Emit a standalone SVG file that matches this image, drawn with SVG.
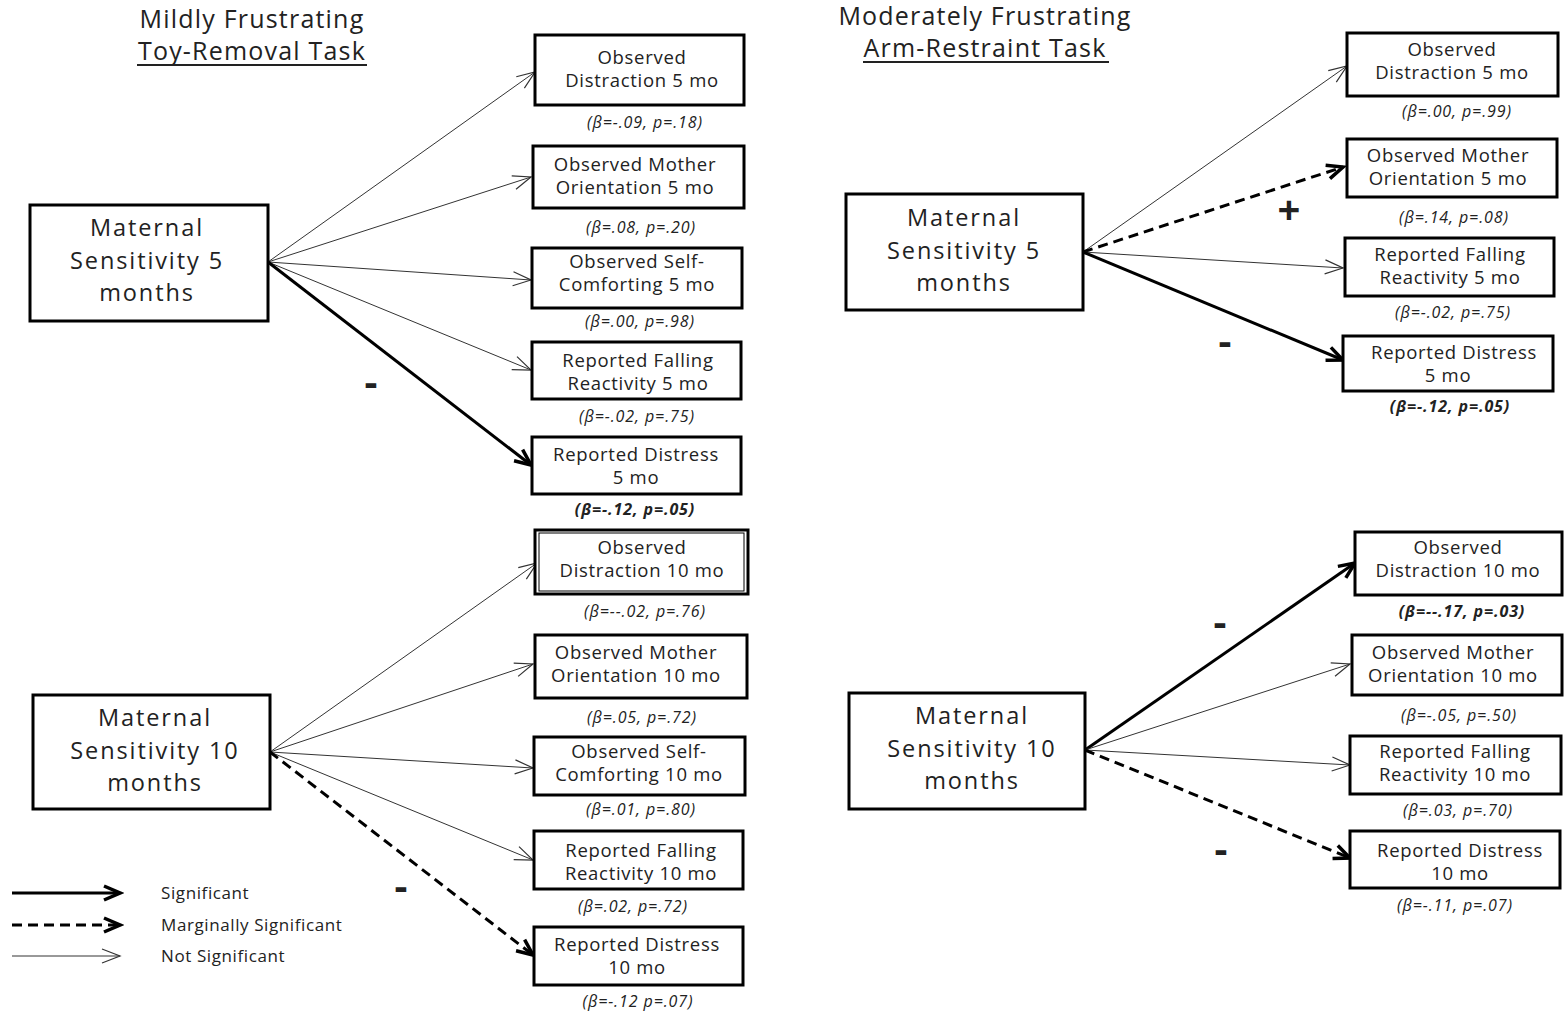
<svg xmlns="http://www.w3.org/2000/svg" width="1564" height="1015" viewBox="0 0 1564 1015">
<style>
text{font-family:"Open Sans","Liberation Sans",sans-serif;fill:#222;text-anchor:middle}
.box{fill:#fff;stroke:#000;stroke-width:3}
.main{font-size:23.5px;letter-spacing:1.9px}
.t{font-size:18.5px;letter-spacing:0.7px}
.lab{font-size:16px;font-style:italic;letter-spacing:0.9px}
.b{font-weight:bold}
.title{font-size:25px;letter-spacing:1.2px}
.thin{stroke:#333;stroke-width:1;fill:none}
.sig{stroke:#000;stroke-width:3;fill:none}
.marg{stroke:#000;stroke-width:3;fill:none;stroke-dasharray:10 6}
.sign{font-size:40px;font-weight:bold;fill:#222}
.leg{font-size:17px;letter-spacing:0.6px;text-anchor:start}
</style>
<defs>
<marker id="ah" markerUnits="userSpaceOnUse" markerWidth="24" markerHeight="20" refX="20" refY="8" orient="auto" viewBox="0 0 24 16"><path d="M2,1 L20,8 L2,15" fill="none" stroke="#333" stroke-width="1.2"/></marker>
<marker id="ahb" markerUnits="userSpaceOnUse" markerWidth="24" markerHeight="20" refX="20" refY="8" orient="auto" viewBox="0 0 24 16"><path d="M4,1 L20,8 L4,15" fill="none" stroke="#000" stroke-width="3.5"/></marker>
</defs>
<rect width="1564" height="1015" fill="#fff"/>

<g id="titles">
<text class="title" x="252" y="28">Mildly Frustrating</text>
<text class="title" x="252" y="60">Toy-Removal Task</text>
<line x1="137" y1="65" x2="367" y2="65" stroke="#222" stroke-width="2"/>
<text class="title" x="985" y="25">Moderately Frustrating</text>
<text class="title" x="985" y="57">Arm-Restraint Task</text>
<line x1="863" y1="62" x2="1109" y2="62" stroke="#222" stroke-width="2"/>
</g>

<g id="connectors">
<line class="thin" x1="268" y1="262" x2="535" y2="72" marker-end="url(#ah)"/>
<line class="thin" x1="268" y1="262" x2="531" y2="177" marker-end="url(#ah)"/>
<line class="thin" x1="268" y1="262" x2="531" y2="280" marker-end="url(#ah)"/>
<line class="thin" x1="268" y1="262" x2="531" y2="370" marker-end="url(#ah)"/>
<line class="sig" x1="268" y1="262" x2="531" y2="465" marker-end="url(#ahb)"/>

<line class="thin" x1="270" y1="752" x2="537" y2="563" marker-end="url(#ah)"/>
<line class="thin" x1="270" y1="752" x2="533" y2="664" marker-end="url(#ah)"/>
<line class="thin" x1="270" y1="752" x2="533" y2="768" marker-end="url(#ah)"/>
<line class="thin" x1="270" y1="752" x2="533" y2="860" marker-end="url(#ah)"/>
<line class="marg" x1="270" y1="752" x2="533" y2="955" marker-end="url(#ahb)"/>

<line class="thin" x1="1083" y1="252" x2="1347" y2="66" marker-end="url(#ah)"/>
<line class="marg" x1="1083" y1="252" x2="1343" y2="167" marker-end="url(#ahb)"/>
<line class="thin" x1="1083" y1="252" x2="1343" y2="268" marker-end="url(#ah)"/>
<line class="sig" x1="1083" y1="252" x2="1343" y2="360" marker-end="url(#ahb)"/>

<line class="sig" x1="1085" y1="750" x2="1355" y2="563" marker-end="url(#ahb)"/>
<line class="thin" x1="1085" y1="750" x2="1350" y2="664" marker-end="url(#ah)"/>
<line class="thin" x1="1085" y1="750" x2="1350" y2="765" marker-end="url(#ah)"/>
<line class="marg" x1="1085" y1="750" x2="1350" y2="858" marker-end="url(#ahb)"/>
</g>

<g id="signs">
<text class="sign" x="371" y="396">-</text>
<text class="sign" x="401" y="900">-</text>
<text class="sign" x="1289" y="224">+</text>
<text class="sign" x="1225" y="355">-</text>
<text class="sign" x="1220" y="636">-</text>
<text class="sign" x="1221" y="863">-</text>
</g>

<g id="ms5-left">
<rect class="box" x="30" y="205" width="238" height="116"/>
<text class="main" x="147" y="236">Maternal</text>
<text class="main" x="147" y="269">Sensitivity 5</text>
<text class="main" x="147" y="301">months</text>
</g>
<g id="l-dist5">
<rect class="box" x="535" y="35" width="209" height="70"/>
<text class="t" x="642" y="64">Observed</text>
<text class="t" x="642" y="87">Distraction 5 mo</text>
<text class="lab" x="645" y="128">(β=-.09, p=.18)</text>
</g>
<g id="l-mother5">
<rect class="box" x="533" y="146" width="211" height="62"/>
<text class="t" x="635" y="171">Observed Mother</text>
<text class="t" x="635" y="194">Orientation 5 mo</text>
<text class="lab" x="641" y="233">(β=.08, p=.20)</text>
</g>
<g id="l-self5">
<rect class="box" x="532" y="248" width="210" height="60"/>
<text class="t" x="637" y="268">Observed Self-</text>
<text class="t" x="637" y="291">Comforting 5 mo</text>
<text class="lab" x="640" y="327">(β=.00, p=.98)</text>
</g>
<g id="l-fall5">
<rect class="box" x="532" y="342" width="209" height="57"/>
<text class="t" x="638" y="367">Reported  Falling</text>
<text class="t" x="638" y="390">Reactivity 5 mo</text>
<text class="lab" x="637" y="422">(β=-.02, p=.75)</text>
</g>
<g id="l-distress5">
<rect class="box" x="532" y="437" width="209" height="57"/>
<text class="t" x="636" y="461">Reported  Distress</text>
<text class="t" x="636" y="484">5 mo</text>
<text class="lab b" x="635" y="515">(β=-.12, p=.05)</text>
</g>

<g id="ms10-left">
<rect class="box" x="33" y="695" width="237" height="114"/>
<text class="main" x="155" y="726">Maternal</text>
<text class="main" x="155" y="759">Sensitivity 10</text>
<text class="main" x="155" y="791">months</text>
</g>
<g id="l-dist10">
<rect class="box" x="535" y="530" width="213" height="64"/>
<rect x="539" y="533" width="205" height="58" fill="none" stroke="#000" stroke-width="1"/>
<text class="t" x="642" y="554">Observed</text>
<text class="t" x="642" y="577">Distraction 10 mo</text>
<text class="lab" x="645" y="617">(β=--.02, p=.76)</text>
</g>
<g id="l-mother10">
<rect class="box" x="535" y="635" width="212" height="63"/>
<text class="t" x="636" y="659">Observed Mother</text>
<text class="t" x="636" y="682">Orientation 10 mo</text>
<text class="lab" x="642" y="723">(β=.05, p=.72)</text>
</g>
<g id="l-self10">
<rect class="box" x="534" y="737" width="211" height="58"/>
<text class="t" x="639" y="758">Observed Self-</text>
<text class="t" x="639" y="781">Comforting 10 mo</text>
<text class="lab" x="641" y="815">(β=.01, p=.80)</text>
</g>
<g id="l-fall10">
<rect class="box" x="534" y="831" width="209" height="58"/>
<text class="t" x="641" y="857">Reported  Falling</text>
<text class="t" x="641" y="880">Reactivity 10 mo</text>
<text class="lab" x="633" y="912">(β=.02, p=.72)</text>
</g>
<g id="l-distress10">
<rect class="box" x="534" y="927" width="209" height="58"/>
<text class="t" x="637" y="951">Reported  Distress</text>
<text class="t" x="637" y="974">10 mo</text>
<text class="lab" x="638" y="1007">(β=-.12 p=.07)</text>
</g>

<g id="legend">
<line class="sig" x1="12" y1="893" x2="120" y2="893" marker-end="url(#ahb)"/>
<line class="marg" x1="12" y1="925" x2="120" y2="925" marker-end="url(#ahb)"/>
<line class="thin" x1="12" y1="956" x2="120" y2="956" marker-end="url(#ah)"/>
<text class="leg" x="161" y="899">Significant</text>
<text class="leg" x="161" y="931">Marginally Significant</text>
<text class="leg" x="161" y="962">Not Significant</text>
</g>

<g id="ms5-right">
<rect class="box" x="846" y="194" width="237" height="116"/>
<text class="main" x="964" y="226">Maternal</text>
<text class="main" x="964" y="259">Sensitivity 5</text>
<text class="main" x="964" y="291">months</text>
</g>
<g id="r-dist5">
<rect class="box" x="1347" y="33" width="211" height="63"/>
<text class="t" x="1452" y="56">Observed</text>
<text class="t" x="1452" y="79">Distraction 5 mo</text>
<text class="lab" x="1457" y="117">(β=.00, p=.99)</text>
</g>
<g id="r-mother5">
<rect class="box" x="1347" y="139" width="210" height="58"/>
<text class="t" x="1448" y="162">Observed Mother</text>
<text class="t" x="1448" y="185">Orientation 5 mo</text>
<text class="lab" x="1454" y="223">(β=.14, p=.08)</text>
</g>
<g id="r-fall5">
<rect class="box" x="1345" y="238" width="209" height="58"/>
<text class="t" x="1450" y="261">Reported  Falling</text>
<text class="t" x="1450" y="284">Reactivity 5 mo</text>
<text class="lab" x="1453" y="318">(β=-.02, p=.75)</text>
</g>
<g id="r-distress5">
<rect class="box" x="1343" y="336" width="210" height="55"/>
<text class="t" x="1454" y="359">Reported  Distress</text>
<text class="t" x="1448" y="382">5 mo</text>
<text class="lab b" x="1450" y="412">(β=-.12, p=.05)</text>
</g>

<g id="ms10-right">
<rect class="box" x="849" y="693" width="236" height="116"/>
<text class="main" x="972" y="724">Maternal</text>
<text class="main" x="972" y="757">Sensitivity 10</text>
<text class="main" x="972" y="789">months</text>
</g>
<g id="r-dist10">
<rect class="box" x="1355" y="532" width="207" height="63"/>
<text class="t" x="1458" y="554">Observed</text>
<text class="t" x="1458" y="577">Distraction 10 mo</text>
<text class="lab b" x="1462" y="617">(β=--.17, p=.03)</text>
</g>
<g id="r-mother10">
<rect class="box" x="1352" y="635" width="210" height="60"/>
<text class="t" x="1453" y="659">Observed Mother</text>
<text class="t" x="1453" y="682">Orientation 10 mo</text>
<text class="lab" x="1459" y="721">(β=-.05, p=.50)</text>
</g>
<g id="r-fall10">
<rect class="box" x="1350" y="736" width="211" height="58"/>
<text class="t" x="1455" y="758">Reported  Falling</text>
<text class="t" x="1455" y="781">Reactivity 10 mo</text>
<text class="lab" x="1458" y="816">(β=.03, p=.70)</text>
</g>
<g id="r-distress10">
<rect class="box" x="1350" y="831" width="210" height="57"/>
<text class="t" x="1460" y="857">Reported  Distress</text>
<text class="t" x="1460" y="880">10 mo</text>
<text class="lab" x="1455" y="911">(β=-.11, p=.07)</text>
</g>
</svg>
